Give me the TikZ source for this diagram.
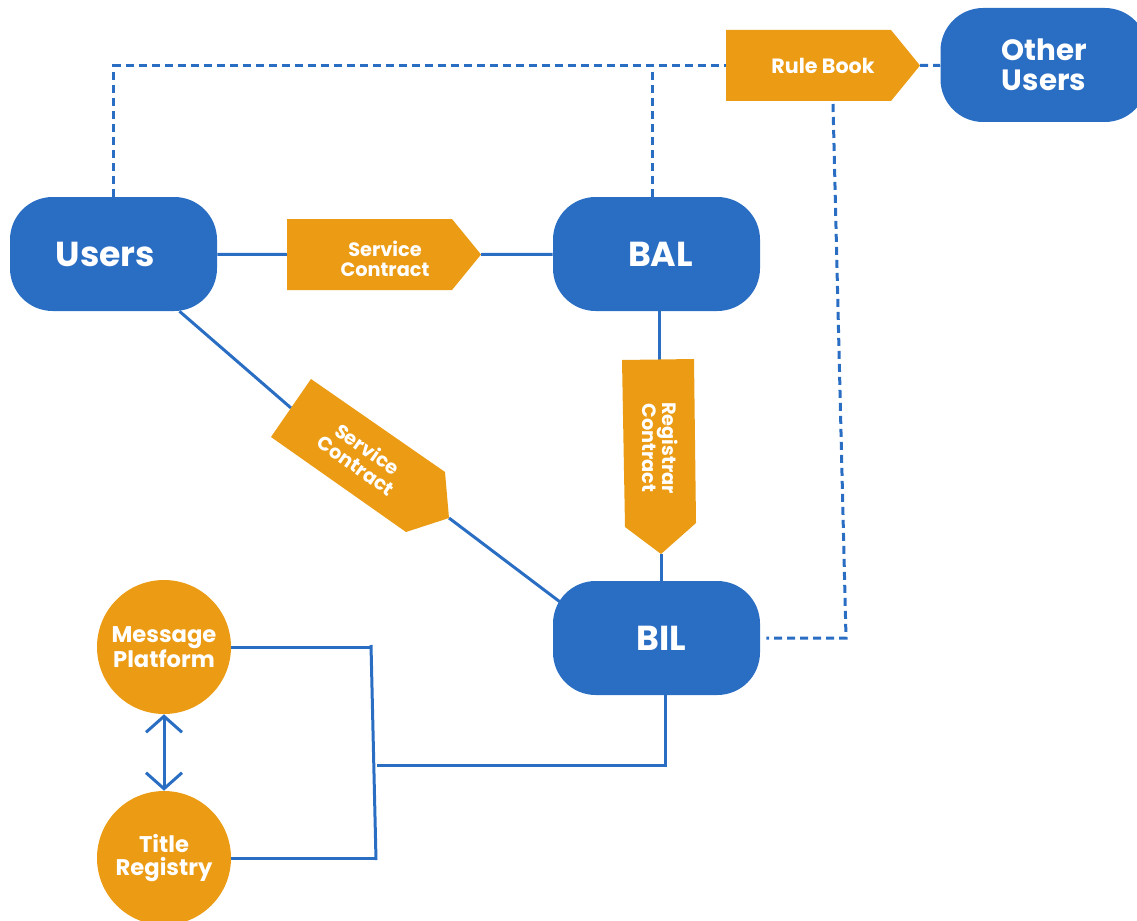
\documentclass[tikz,border=0pt]{standalone}
\usepackage{fontspec}
\setmainfont{Poppins}
\usetikzlibrary{arrows.meta,backgrounds}
\definecolor{bblue}{HTML}{2A6EC4}
\definecolor{borange}{HTML}{EB9B14}
\begin{document}
\begin{tikzpicture}[x=0.75pt,y=-0.75pt,
  blob/.style={fill=bblue, rounded corners=32pt, minimum width=155.25pt,
    minimum height=85.5pt, text=white, align=center, inner sep=0pt,
    font=\bfseries\fontsize{26}{28}\selectfont},
  disc/.style={circle, fill=borange, minimum size=100.5pt, inner sep=0pt,
    text=white, align=center, font=\bfseries\fontsize{17}{17.5}\selectfont},
  tagtext/.style={text=white, align=center, inner sep=0pt,
    font=\bfseries\fontsize{14.5}{15}\selectfont},
  link/.style={draw=bblue, line width=2.25pt},
  dlink/.style={link, dash pattern=on 6pt off 3.75pt},
  barb/.tip={Straight Barb[length=12pt,width=27pt]},
]
\useasboundingbox (0,0) rectangle (1137,920);

% main parties
\node[blob] (users) at (113.5,254) {Users\kern12pt};
\node[blob] (bal) at (656.5,254) {\kern6pt BAL};
\node[blob] (bil) at (656.5,638) {\kern7.5pt BIL};
\node[blob, font=\bfseries\fontsize{22}{22.5}\selectfont] (other) at (1044,65) {Other\\Users};

% external services
\node[disc] (msg) at (164,647) {Message\\Platform};
\node[disc] (title) at (164,858) {Title\\Registry};

% contract tags
\fill[borange] (287,219) -- (452,219) -- (481,254.5) -- (452,290) -- (287,290) -- cycle;
\node[tagtext] (sc1) at (385,259) {Service\\Contract};
\coordinate (sc1in) at (287,254.5);
\coordinate (sc1out) at (481,254.5);

\fill[borange] (726,30) -- (891,30) -- (920,65.5) -- (891,101) -- (726,101) -- cycle;
\node[tagtext, font=\bfseries\fontsize{15.5}{16}\selectfont] (rule) at (823,66) {Rule Book};
\coordinate (rbin) at (726,66);
\coordinate (rbout) at (920,65.5);
\coordinate (rbfoot) at (833,104);

\fill[borange] (622,360) -- (694,359) -- (696,523) -- (661,554) -- (625,527) -- cycle;
\node[tagtext, rotate=-90] (reg) at (660,448) {Registrar\\Contract};
\coordinate (regin) at (659,360);
\coordinate (regout) at (661,554);

\fill[borange] (311,379) -- (445,472) -- (449,518) -- (406,532) -- (271,437) -- cycle;
\node[tagtext, rotate=-35] (sc2) at (362,457) {Service\\Contract};
\coordinate (sc2in) at (291,408);
\coordinate (sc2out) at (449,518);

% routing points
\coordinate (bilin) at (572,611);
\coordinate (balhook) at (652,66);
\coordinate (rbturn) at (846,638);
\coordinate (bartop) at (371,645);
\coordinate (barbot) at (376,860);
\coordinate (hub) at (377,765);
\coordinate (bilfoot) at (665,765);

\begin{pgfonlayer}{background}
  % contract links
  \draw[link] (users) -- (sc1in);
  \draw[link] (sc1out) -- (bal);
  \draw[link] (users) -- (sc2in);
  \draw[link] (sc2out) -- (bilin);
  \draw[link] (bal.south -| regin) -- (regin);
  \draw[link] (regout) -- (bil.north -| regout);

  % rule book links
  \draw[dlink] (users.north) |- (rbin);
  \draw[dlink] (bal.north -| balhook) -- (balhook);
  \draw[dlink] (rbout) -- (other);
  \draw[dlink, shorten >=4.5pt] (rbfoot) -- (rbturn) -- (bil.east);

  % service bus
  \draw[link] (msg.east) -- (msg.east -| bartop);
  \draw[link] (title.east) -- (title.east -| barbot);
  \draw[link] (bartop) -- (barbot);
  \draw[link] (hub) -- (bilfoot) -- (bil.south -| bilfoot);
  \draw[link, barb-barb] (msg) -- (title);
\end{pgfonlayer}
\end{tikzpicture}
\end{document}
